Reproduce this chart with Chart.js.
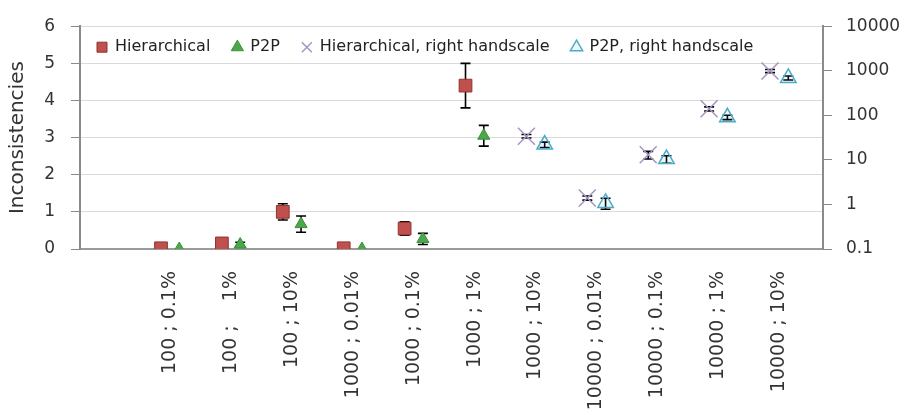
<!DOCTYPE html>
<html>
<head>
<meta charset="utf-8">
<script src="https://cdn.jsdelivr.net/npm/chart.js@4/dist/chart.umd.min.js"></script>
<style>
  html, body { margin: 0; padding: 0; background: #fff; }
</style>
</head>
<body>
<canvas id="inconsistency-chart" width="911" height="416"></canvas>
<script>
const CATEGORIES = [
  '100 ; 0.1%',
  '100 ;    1%',
  '100 ; 10%',
  '1000 ; 0.01%',
  '1000 ; 0.1%',
  '1000 ; 1%',
  '1000 ; 10%',
  '10000 ; 0.01%',
  '10000 ; 0.1%',
  '10000 ; 1%',
  '10000 ; 10%',
]

// left handscale
const HIERARCHICAL = [0.02, 0.15, 1.0, 0.02, 0.55, 4.4, null, null, null, null, null]
const HIERARCHICAL_ERR = [0, 0.05, 0.22, 0, 0.18, 0.6, null, null, null, null, null]
const P2P = [0, 0.12, 0.67, 0, 0.27, 3.05, null, null, null, null, null]
const P2P_ERR = [0, 0.06, 0.22, 0, 0.15, 0.28, null, null, null, null, null]

// right handscale (log)
const HIERARCHICAL_RIGHT = [null, null, null, null, null, null, 34, 1.4, 13, 140, 990]
const HIERARCHICAL_RIGHT_ERR = [null, null, null, null, null, null, 3, 0.15, 2.5, 15, 80]
const P2P_RIGHT = [null, null, null, null, null, null, 22, 1.08, 10.4, 90, 690]
const P2P_RIGHT_ERR = [null, null, null, null, null, null, 3, 0.3, 2, 10, 70]

const PAIR_SHIFT = 0.15

const toPoints = (values, errors, shift) =>
  values
    .map((v, i) => (v == null ? null : { x: i + shift, y: v, err: errors[i] }))
    .filter(Boolean)

const errorBars = {
  id: 'errorBars',
  beforeDatasetsDraw(chart) {
    const { ctx } = chart
    ctx.save()
    ctx.strokeStyle = '#000'
    ctx.lineWidth = 1.6
    chart.data.datasets.forEach((ds, di) => {
      const meta = chart.getDatasetMeta(di)
      const yScale = chart.scales[meta.yAxisID]
      meta.data.forEach((el, j) => {
        const raw = ds.data[j]
        if (!raw.err) return
        const top = yScale.getPixelForValue(raw.y + raw.err)
        const bot = yScale.getPixelForValue(raw.y - raw.err)
        const x = el.x
        ctx.beginPath()
        ctx.moveTo(x, top)
        ctx.lineTo(x, bot)
        ctx.moveTo(x - 5, top)
        ctx.lineTo(x + 5, top)
        ctx.moveTo(x - 5, bot)
        ctx.lineTo(x + 5, bot)
        ctx.stroke()
      })
    })
    ctx.restore()
  },
}

// legend sits inside the plot area but runs in one row, like the excel original
const rowLegend = {
  id: 'rowLegend',
  beforeLayout(chart) {
    if (chart.legend) {
      chart.legend.isHorizontal = () => true
    }
  },
  afterLayout(chart) {
    const legend = chart.legend
    if (!legend) return
    const area = chart.chartArea
    legend.left = area.left - 5
    legend.right = area.right
    legend.top = area.top - 9
    legend.bottom = legend.top + legend.height
  },
}

const isPowerOfTen = (v) => Math.abs(Math.log10(v) - Math.round(Math.log10(v))) < 1e-6

Chart.defaults.font.family = "'DejaVu Sans', sans-serif"
Chart.defaults.color = '#262626'

new Chart(document.getElementById('inconsistency-chart'), {
  type: 'scatter',
  data: {
    datasets: [
      {
        label: 'Hierarchical',
        data: toPoints(HIERARCHICAL, HIERARCHICAL_ERR, -PAIR_SHIFT),
        pointStyle: 'rect',
        pointRadius: 9,
        backgroundColor: '#c0504d',
        borderColor: '#8f3330',
        borderWidth: 1,
        yAxisID: 'y',
      },
      {
        label: 'P2P',
        data: toPoints(P2P, P2P_ERR, PAIR_SHIFT),
        pointStyle: 'triangle',
        pointRadius: 7,
        backgroundColor: '#4aa84a',
        borderColor: '#3b8f3b',
        borderWidth: 1,
        yAxisID: 'y',
      },
      {
        label: 'Hierarchical, right handscale',
        data: toPoints(HIERARCHICAL_RIGHT, HIERARCHICAL_RIGHT_ERR, -PAIR_SHIFT),
        pointStyle: 'crossRot',
        pointRadius: 12,
        backgroundColor: '#a493c4',
        borderColor: '#a493c4',
        borderWidth: 1.5,
        yAxisID: 'y2',
      },
      {
        label: 'P2P, right handscale',
        data: toPoints(P2P_RIGHT, P2P_RIGHT_ERR, PAIR_SHIFT),
        pointStyle: 'triangle',
        pointRadius: 9,
        backgroundColor: 'rgba(75,172,198,0.08)',
        borderColor: '#4bacc6',
        borderWidth: 1.5,
        yAxisID: 'y2',
      },
    ],
  },
  options: {
    responsive: false,
    animation: false,
    layout: { padding: { top: 20, left: 0, right: 0, bottom: 0 } },
    plugins: {
      tooltip: { enabled: false },
      legend: {
        position: 'chartArea',
        align: 'start',
        labels: {
          usePointStyle: true,
          boxWidth: 10,
          boxHeight: 10,
          padding: 22,
          font: { size: 16 },
          color: '#222',
        },
      },
    },
    scales: {
      x: {
        type: 'linear',
        position: 'bottom',
        min: -1.48,
        max: 10.72,
        grid: { display: false, drawTicks: false },
        border: { color: '#9a9a9a', width: 2 },
        ticks: {
          minRotation: 90,
          maxRotation: 90,
          autoSkip: false,
          padding: 22,
          font: { size: 19 },
          color: '#333',
          callback: (v) => CATEGORIES[v],
        },
        afterBuildTicks: (axis) => {
          axis.ticks = CATEGORIES.map((c, i) => ({ value: i }))
        },
        afterFit: (axis) => {
          axis.height = 167
        },
      },
      y: {
        position: 'left',
        min: 0,
        max: 6,
        ticks: { stepSize: 1, padding: 16, font: { size: 17 }, color: '#333' },
        grid: { color: '#dadada', tickColor: '#8a8a8a', tickLength: 9 },
        border: { color: '#8a8a8a', width: 2 },
        title: {
          display: true,
          text: 'Inconsistencies',
          font: { size: 20 },
          color: '#333',
          padding: { top: 6, bottom: 0 },
        },
        afterFit: (axis) => {
          axis.width = 80
        },
      },
      y2: {
        type: 'logarithmic',
        position: 'right',
        min: 0.1,
        max: 10000,
        grid: { drawOnChartArea: false, tickColor: '#8a8a8a', tickLength: 9 },
        border: { color: '#8a8a8a', width: 2 },
        ticks: {
          padding: 14,
          font: { size: 17 },
          color: '#333',
          callback: (v) => String(Number(v.toPrecision(1))),
        },
        afterBuildTicks: (axis) => {
          axis.ticks = axis.ticks.filter((t) => isPowerOfTen(t.value))
        },
        afterFit: (axis) => {
          axis.width = 88
        },
      },
    },
  },
  plugins: [errorBars, rowLegend],
})
</script>
</body>
</html>
